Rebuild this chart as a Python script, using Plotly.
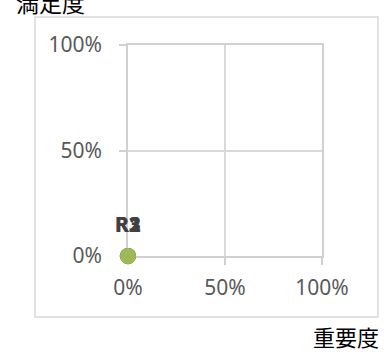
import plotly.graph_objects as go

# Series data: importance (x) vs satisfaction (y)
series_names = ["R1", "R2", "R3"]
importance = [0.0, 0.0, 0.0]
satisfaction = [0.0, 0.0, 0.0]
series_colors = ["#4F81BD", "#C0504D", "#9BBB59"]

tick_vals = [0, 0.5, 1.0]
tick_text = ["0%", "50%", "100%"]

W, H = 389, 363
L, R, T, B = 128, 67, 45, 107
pw = W - L - R
ph = H - T - B


def px_x(p):
    return (p - L) / pw


def px_y(p):
    return (H - B - p) / ph


fig = go.Figure()
for name, x, y, col in zip(series_names, importance, satisfaction, series_colors):
    fig.add_trace(go.Scatter(
        x=[x], y=[y], mode="markers", name=name,
        marker=dict(size=16, color=col),
        cliponaxis=False, showlegend=False,
    ))

# Data labels sit above each point
label_annotations = [
    dict(text=f"<b>{name}</b>", x=x, y=y, xref="x", yref="y",
         xanchor="center", yanchor="middle", yshift=32, showarrow=False,
         font=dict(family="Noto Sans, sans-serif", size=21, color="#404040"))
    for name, x, y in zip(series_names, importance, satisfaction)
]

axis_common = dict(
    range=[0, 1], tickvals=tick_vals, ticktext=tick_text,
    showgrid=True, gridcolor="#d9d9d9", gridwidth=1.5,
    showline=True, mirror=True, linecolor="#d0d0d0", linewidth=1.5,
    ticks="outside", ticklen=7, tickcolor="#d0d0d0", tickwidth=1.5,
    zeroline=False, fixedrange=True, layer="below traces",
    tickfont=dict(family="Noto Sans, sans-serif", size=21, color="#595959"),
)

fig.update_layout(
    width=W, height=H,
    margin=dict(l=L, r=R, t=T, b=B, pad=0),
    paper_bgcolor="white", plot_bgcolor="white",
    xaxis=dict(**axis_common, ticklabelstandoff=5),
    yaxis=dict(**axis_common, ticklabelstandoff=13),
    shapes=[dict(
        type="rect", xref="paper", yref="paper",
        x0=px_x(35), x1=px_x(378), y0=px_y(317), y1=px_y(17),
        line=dict(color="#d9d9d9", width=1.5), fillcolor="rgba(0,0,0,0)", layer="below",
    )],
    annotations=label_annotations + [
        dict(text="満足度", xref="paper", yref="paper", x=px_x(50), y=px_y(2),
             xanchor="center", yanchor="middle", showarrow=False,
             font=dict(family="Noto Sans CJK JP", size=23, color="#000000")),
        dict(text="重要度", xref="paper", yref="paper", x=px_x(346), y=px_y(336),
             xanchor="center", yanchor="middle", showarrow=False,
             font=dict(family="Noto Sans CJK JP", size=22, color="#000000")),
    ],
)

fig.write_html("out.html", config={"displayModeBar": False})
